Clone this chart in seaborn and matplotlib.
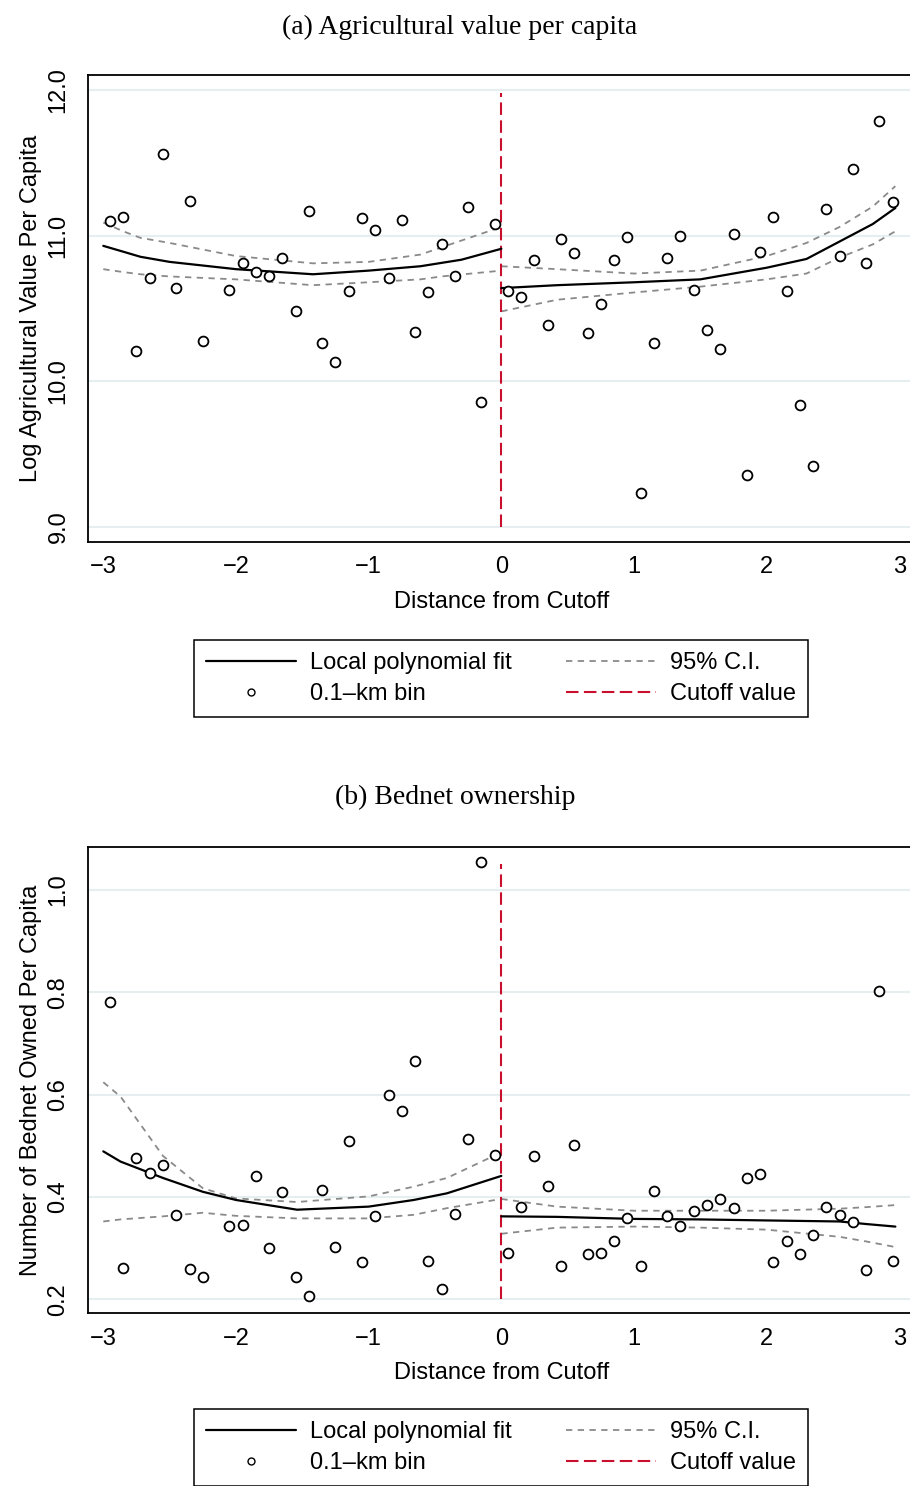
import matplotlib
matplotlib.use('Agg')
import matplotlib.pyplot as plt
import matplotlib.lines as mlines
import seaborn as sns
import pandas as pd

# bin centres (0.1-km bins); no bin at -2.15
bin_x = [-2.95, -2.85, -2.75, -2.65, -2.55, -2.45, -2.35, -2.25, -2.05, -1.95,
         -1.85, -1.75, -1.65, -1.55, -1.45, -1.35, -1.25, -1.15, -1.05, -0.95,
         -0.85, -0.75, -0.65, -0.55, -0.45, -0.35, -0.25, -0.15, -0.05,
         0.05, 0.15, 0.25, 0.35, 0.45, 0.55, 0.65, 0.75, 0.85, 0.95,
         1.05, 1.15, 1.25, 1.35, 1.45, 1.55, 1.65, 1.75, 1.85, 1.95,
         2.05, 2.15, 2.25, 2.35, 2.45, 2.55, 2.65, 2.75, 2.85, 2.95]

# (a) log agricultural value per capita
agri_bins = [11.10, 11.13, 10.21, 10.71, 11.56, 10.64, 11.24, 10.28, 10.63, 10.81,
             10.75, 10.72, 10.85, 10.48, 11.17, 10.26, 10.13, 10.62, 11.12, 11.04,
             10.71, 11.11, 10.34, 10.61, 10.94, 10.72, 11.20, 9.86, 11.08,
             10.62, 10.58, 10.83, 10.39, 10.98, 10.88, 10.33, 10.53, 10.83, 10.99,
             9.23, 10.26, 10.85, 11.00, 10.63, 10.35, 10.22, 11.01, 9.36, 10.89,
             11.13, 10.62, 9.84, 9.42, 11.18, 10.86, 11.46, 10.81, 11.79, 11.23]

# (b) bednets owned per capita
bednet_bins = [0.780, 0.261, 0.476, 0.446, 0.463, 0.365, 0.259, 0.243, 0.343, 0.345,
               0.441, 0.300, 0.409, 0.243, 0.206, 0.413, 0.302, 0.509, 0.272, 0.363,
               0.599, 0.568, 0.665, 0.274, 0.221, 0.367, 0.513, 1.055, 0.482,
               0.291, 0.380, 0.480, 0.421, 0.265, 0.501, 0.288, 0.291, 0.314, 0.358,
               0.265, 0.412, 0.362, 0.344, 0.373, 0.384, 0.395, 0.379, 0.436, 0.444,
               0.273, 0.314, 0.289, 0.326, 0.380, 0.364, 0.351, 0.257, 0.803, 0.275]

# local polynomial fits and 95% CI, left and right of the cutoff
agri_fit_lx = [-3.0, -2.85, -2.72, -2.5, -2.0, -1.42, -1.0, -0.61, -0.3, 0.0]
agri_fit_l = [10.93, 10.89, 10.855, 10.82, 10.77, 10.735, 10.76, 10.79, 10.835, 10.91]
agri_ci_lx = [-3.0, -2.85, -2.72, -2.5, -2.0, -1.42, -1.0, -0.61, -0.45, 0.0]
agri_hi_l = [11.09, 11.03, 10.985, 10.95, 10.86, 10.81, 10.82, 10.87, 10.92, 11.06]
agri_lo_l = [10.77, 10.75, 10.735, 10.72, 10.70, 10.66, 10.68, 10.70, 10.72, 10.76]
agri_rx = [0.0, 0.42, 1.0, 1.5, 2.0, 2.3, 2.55, 2.8, 2.97]
agri_fit_r = [10.64, 10.66, 10.68, 10.70, 10.78, 10.84, 10.96, 11.08, 11.19]
agri_hi_r = [10.79, 10.77, 10.74, 10.76, 10.86, 10.95, 11.06, 11.20, 11.34]
agri_lo_r = [10.48, 10.56, 10.61, 10.65, 10.70, 10.74, 10.85, 10.94, 11.03]

bed_fit_lx = [-3.0, -2.87, -2.55, -2.25, -2.0, -1.54, -1.0, -0.66, -0.41, 0.0]
bed_fit_l = [0.489, 0.469, 0.437, 0.410, 0.394, 0.375, 0.381, 0.394, 0.407, 0.441]
bed_hi_l = [0.624, 0.596, 0.480, 0.417, 0.397, 0.390, 0.401, 0.420, 0.437, 0.487]
bed_lo_l = [0.352, 0.356, 0.362, 0.369, 0.363, 0.358, 0.358, 0.365, 0.378, 0.396]
bed_rx = [0.0, 0.42, 1.0, 1.5, 2.0, 2.55, 2.75, 2.97]
bed_fit_r = [0.362, 0.361, 0.357, 0.356, 0.354, 0.352, 0.347, 0.342]
bed_hi_r = [0.396, 0.381, 0.373, 0.373, 0.373, 0.377, 0.380, 0.384]
bed_lo_r = [0.328, 0.340, 0.342, 0.340, 0.336, 0.322, 0.313, 0.302]

cutoff = 0.0
cut_span_a = [9.0, 11.98]
cut_span_b = [0.2, 1.05]

sns.set_style('white')
plt.rcParams['font.family'] = ['Liberation Sans', 'DejaVu Sans']
plt.rcParams['axes.unicode_minus'] = True
plt.rcParams['text.color'] = 'black'
plt.rcParams['axes.labelcolor'] = 'black'
plt.rcParams['xtick.color'] = 'black'
plt.rcParams['ytick.color'] = 'black'

RED = '#c8102e'
GREY = '#8a8a8a'
GRID = '#e6eef0'
FS = 17

fig = plt.figure(figsize=(9.1, 14.86), dpi=100)


def panel(rect, ys, fit_lx, fit_l, ci_lx, hi_l, lo_l, rx, fit_r, hi_r, lo_r,
          cut_span, ylim, yticks, ylab):
    ax = fig.add_axes(rect)
    for t in yticks:
        ax.axhline(t, color=GRID, lw=1.5, zorder=0)
    # CI bands
    for xs, vals in [(ci_lx, hi_l), (ci_lx, lo_l), (rx, hi_r), (rx, lo_r)]:
        sns.lineplot(x=xs, y=vals, ax=ax, color=GREY, lw=1.3,
                     linestyle=(0, (3.5, 3.0)), zorder=2)
    # fits
    sns.lineplot(x=fit_lx, y=fit_l, ax=ax, color='black', lw=1.6, zorder=3)
    sns.lineplot(x=rx, y=fit_r, ax=ax, color='black', lw=1.6, zorder=3)
    # cutoff
    ax.plot([cutoff, cutoff], cut_span, color=RED, lw=1.5,
            linestyle=(0, (6, 2.6)), zorder=2)
    # bins
    df = pd.DataFrame({'x': bin_x, 'y': ys})
    sns.scatterplot(data=df, x='x', y='y', ax=ax, s=50, facecolor='white',
                    edgecolor='black', linewidth=1.3, zorder=4)

    ax.set_xlim(-3.113, 3.118)
    ax.set_ylim(*ylim)
    ax.set_xticks([-3, -2, -1, 0, 1, 2, 3])
    ax.set_yticks(yticks)
    ax.set_yticklabels([f'{t:.1f}' for t in yticks])
    ax.tick_params(axis='both', direction='out', length=6.5, width=1.1,
                   labelsize=FS, color='black', pad=4)
    ax.tick_params(axis='y', labelrotation=90, pad=7)
    plt.setp(ax.get_yticklabels(), va='center')
    for s in ['left', 'bottom', 'top']:
        ax.spines[s].set_color('black')
        ax.spines[s].set_linewidth(1.3)
    ax.spines['right'].set_visible(False)
    ax.set_xlabel('Distance from Cutoff', fontsize=FS, labelpad=9)
    ax.set_ylabel(ylab, fontsize=FS, labelpad=4)
    return ax


axa = panel([88.3 / 910, 1 - 541.7 / 1486, (915 - 88.3) / 910, (541.7 - 75) / 1486],
            agri_bins, agri_fit_lx, agri_fit_l, agri_ci_lx, agri_hi_l, agri_lo_l,
            agri_rx, agri_fit_r, agri_hi_r, agri_lo_r, cut_span_a,
            (8.899, 12.103), [9.0, 10.0, 11.0, 12.0],
            'Log Agricultural Value Per Capita')

axb = panel([88.3 / 910, 1 - 1313.3 / 1486, (915 - 88.3) / 910, (1313.3 - 847.3) / 1486],
            bednet_bins, bed_fit_lx, bed_fit_l, bed_fit_lx, bed_hi_l, bed_lo_l,
            bed_rx, bed_fit_r, bed_hi_r, bed_lo_r, cut_span_b,
            (0.1726, 1.083), [0.2, 0.4, 0.6, 0.8, 1.0],
            'Number of Bednet Owned Per Capita')

fig.text(0.505, 1 - 27 / 1486, '(a) Agricultural value per capita',
         family=['Liberation Serif', 'DejaVu Serif'], fontsize=20,
         ha='center', va='center')
fig.text(0.5, 1 - 797 / 1486, '(b) Bednet ownership',
         family=['Liberation Serif', 'DejaVu Serif'], fontsize=20,
         ha='center', va='center')

h_fit = mlines.Line2D([], [], color='black', lw=1.6)
h_bin = mlines.Line2D([], [], color='black', marker='o', markersize=5,
                      markerfacecolor='white', markeredgewidth=1.0, lw=0)
h_ci = mlines.Line2D([], [], color=GREY, lw=1.3, linestyle=(0, (3.5, 3.0)))
h_cut = mlines.Line2D([], [], color=RED, lw=1.5, linestyle=(0, (6, 2.6)))
labels = ['Local polynomial fit', '0.1\u2013km bin', '95% C.I.', 'Cutoff value']

for ax, yc in [(axa, 1 - 678.5 / 1486), (axb, 1 - 1447.5 / 1486)]:
    leg = ax.legend([h_fit, h_bin, h_ci, h_cut], labels, ncol=2,
                    loc='center', bbox_to_anchor=(0.5506, yc),
                    bbox_transform=fig.transFigure, fontsize=FS,
                    frameon=True, fancybox=False, edgecolor='black',
                    framealpha=1, handlelength=3.8, handletextpad=0.6,
                    columnspacing=2.3, labelspacing=0.38, borderpad=0.5)
    leg.get_frame().set_linewidth(1.1)

fig.savefig('out.png', dpi=100)
